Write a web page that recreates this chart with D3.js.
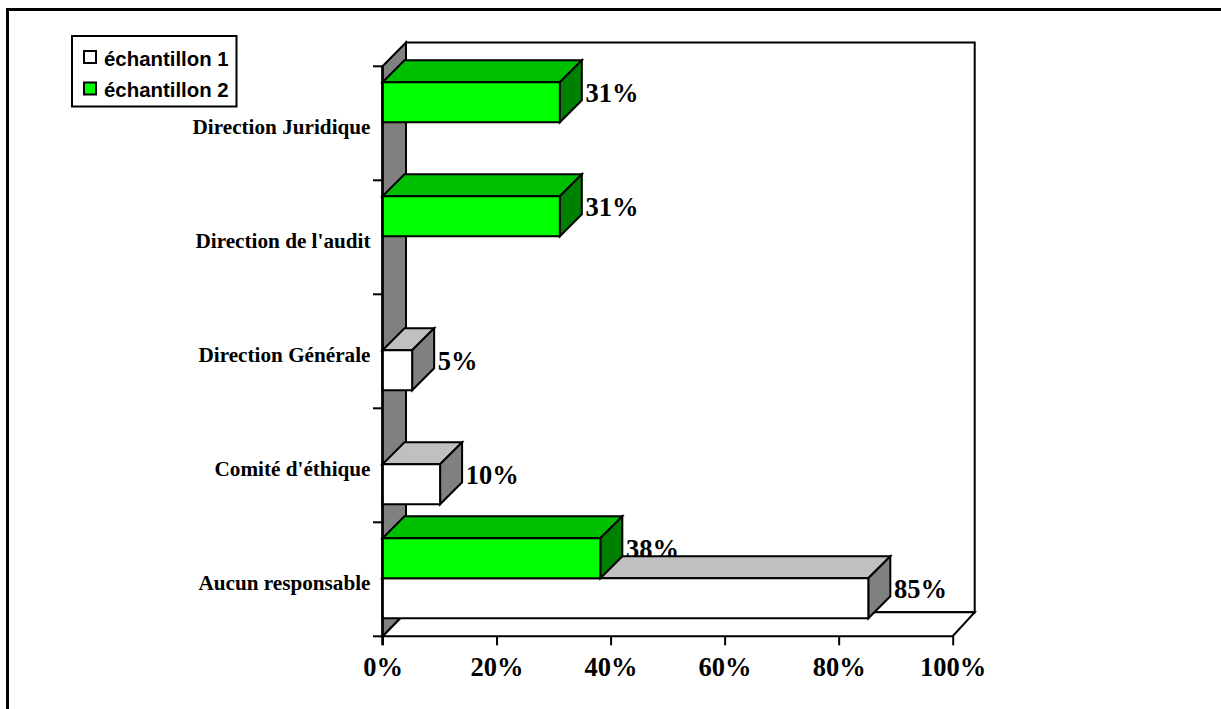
<!DOCTYPE html>
<html>
<head>
<meta charset="utf-8">
<script src="https://d3js.org/d3.v7.min.js"></script>
<style>
html,body{margin:0;padding:0;background:#fff;overflow:hidden}
svg{display:block}
.serif{font-family:"Liberation Serif","Times New Roman",serif;font-weight:700;fill:#000}
.sans{font-family:"Liberation Sans",Arial,sans-serif;font-weight:700;fill:#000}
</style>
</head>
<body>
<div id="chart"></div>
<script>
const categories = ["Direction Juridique","Direction de l'audit","Direction Générale","Comité d'éthique","Aucun responsable"];
const seriesNames = ["échantillon 1","échantillon 2"];
const sample1 = [null,null,5.2,10.1,85.2];
const sample2 = [31.1,31.1,null,null,38.2];
const xTicks = [0,20,40,60,80,100];

const W=1221,H=709;
const svg=d3.select("#chart").append("svg").attr("width",W).attr("height",H);
const INK="#000";

// page frame (top and left only, as in the reference)
svg.append("path").attr("d",`M7.5,${H}V9.5H${W}`).attr("fill","none").attr("stroke",INK).attr("stroke-width",3);

const x=d3.scaleLinear().domain([0,100]).range([382.5,952.7]);
const xBack=d3.scaleLinear().domain([0,100]).range([406,974.7]);
const y=d3.scaleBand().domain(categories).range([66.3,636.3]);
const inner=d3.scaleBand().domain(["s2","s1"]).range([16,96]);
const depthX=22,depthY=22;
const yTop=y.range()[0],yBot=y.range()[1],backTop=42.5,backBot=612.3;

const poly=(g,pts,fill,sw=2)=>g.append("path").attr("d",d3.line()(pts)+"Z")
  .attr("fill",fill).attr("stroke",INK).attr("stroke-width",sw).attr("stroke-linejoin","miter");

// walls
const walls=svg.append("g");
poly(walls,[[xBack(0),backTop],[xBack(100),backTop],[xBack(100),backBot],[xBack(0),backBot]],"#fff",2);
poly(walls,[[x(0),yBot],[x(100),yBot],[xBack(100),backBot],[xBack(0),backBot]],"#fff",2);
poly(walls,[[x(0),yTop],[xBack(0),backTop],[xBack(0),backBot],[x(0),yBot]],"#808080",2);

// axes
const xAxis=svg.append("g").attr("transform",`translate(0,${yBot})`)
  .call(d3.axisBottom(x).tickValues(xTicks).tickSize(9).tickPadding(10).tickFormat(d=>d+"%"));
xAxis.select(".domain").remove();
xAxis.selectAll("line").attr("stroke",INK).attr("stroke-width",2);
xAxis.selectAll("text").attr("class","serif").attr("font-size",26.5).attr("dy",0).attr("y",39.5);

const edges=[...categories.map(c=>y(c)),yBot];
svg.append("g").selectAll("line").data(edges).join("line")
  .attr("x1",x(0)-9.5).attr("x2",x(0)).attr("y1",d=>d).attr("y2",d=>d)
  .attr("stroke",INK).attr("stroke-width",2);
const yAxis=svg.append("g").attr("transform",`translate(${x(0)},0)`)
  .call(d3.axisLeft(y).tickSize(0).tickPadding(12));
yAxis.select(".domain").remove();
yAxis.selectAll("text").attr("class","serif").attr("font-size",21.2).attr("dy",0).attr("y",10.5);

// bars
const styles={
  s1:{front:"#ffffff",top:"#c0c0c0",side:"#808080"},
  s2:{front:"#00ff00",top:"#00bf00",side:"#008000"}
};
const bars=svg.append("g");
function bar(key,cat,val){
  const st=styles[key],x0=x(0),x1=x(val);
  const t=y(cat)+inner(key),b=t+inner.bandwidth();
  const g=bars.append("g");
  poly(g,[[x0,t],[x0+depthX,t-depthY],[x1+depthX,t-depthY],[x1,t]],st.top);
  poly(g,[[x1,t],[x1+depthX,t-depthY],[x1+depthX,b-depthY],[x1,b]],st.side);
  poly(g,[[x0,t],[x1,t],[x1,b],[x0,b]],st.front);
}
function label(key,cat,val){
  const t=y(cat)+inner(key);
  bars.append("text").attr("class","serif").attr("font-size",26.5)
    .attr("x",x(val)+depthX+3.7).attr("y",t+19.5).text(Math.round(val)+"%");
}
categories.forEach((c,i)=>{
  if(sample2[i]!=null) label("s2",c,sample2[i]);
  if(sample1[i]!=null) bar("s1",c,sample1[i]);
  if(sample2[i]!=null) bar("s2",c,sample2[i]);
  if(sample1[i]!=null) label("s1",c,sample1[i]);
});
// base axis line over bars
svg.append("line").attr("x1",x(0)).attr("x2",x(0)).attr("y1",yTop).attr("y2",yBot+9).attr("stroke",INK).attr("stroke-width",2.5);

// legend
const lg=svg.append("g");
lg.append("rect").attr("x",72).attr("y",36).attr("width",164.5).attr("height",70.5)
  .attr("fill","#fff").attr("stroke",INK).attr("stroke-width",2);
const legendY=d3.scalePoint().domain(seriesNames).range([57,88.5]);
const legendFill=d3.scaleOrdinal().domain(seriesNames).range(["#ffffff","#00ff00"]);
seriesNames.forEach(n=>{
  lg.append("rect").attr("x",84).attr("y",legendY(n)-6).attr("width",12).attr("height",12)
    .attr("fill",legendFill(n)).attr("stroke",INK).attr("stroke-width",2);
  lg.append("text").attr("class","sans").attr("font-size",20.4).attr("x",104).attr("y",legendY(n)+8.5).text(n);
});
</script>
</body>
</html>
